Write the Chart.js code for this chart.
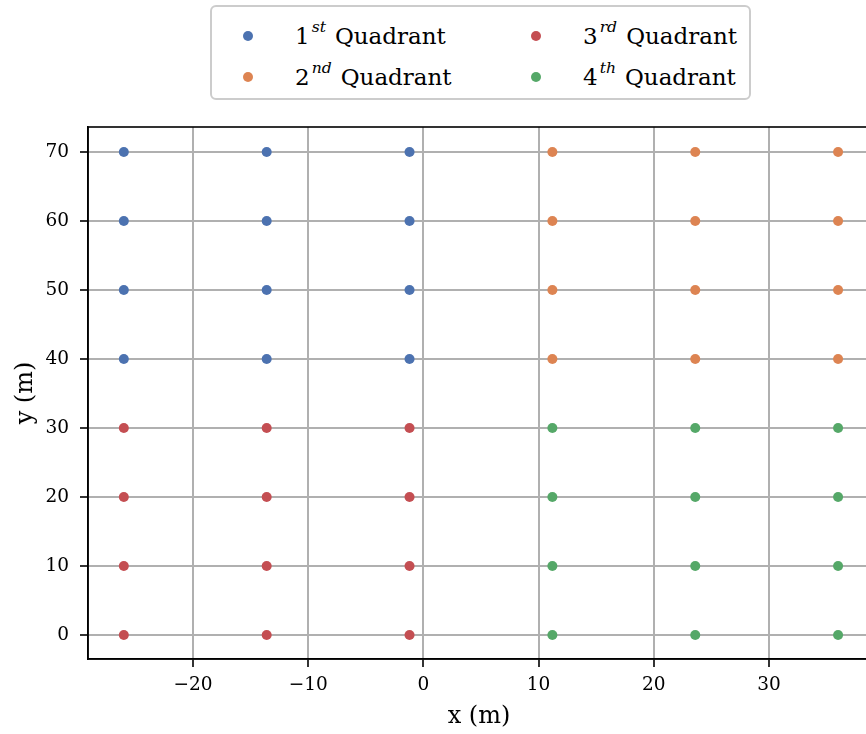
<!DOCTYPE html>
<html>
<head>
<meta charset="utf-8">
<script src="https://cdn.jsdelivr.net/npm/chart.js@4.4.0/dist/chart.umd.min.js"></script>
<style>
body { margin: 0; background: #fff; overflow: hidden; }
#wrap { position: relative; width: 866px; height: 734px; overflow: hidden; }
#chart { position: absolute; left: 0; top: 0; }
#legend { position: absolute; left: 210px; top: 5px; width: 537px; height: 91px;
  border: 2px solid #cccccc; border-radius: 6px; background: #fff;
  font-family: "DejaVu Serif", serif; font-size: 23px; color: #000; }
.item { position: absolute; height: 30px; display: flex; align-items: center; white-space: nowrap; }
.dot { position: absolute; width: 10px; height: 10px; border-radius: 50%; }
.item sup { font-style: italic; font-size: 0.68em; vertical-align: 0; position: relative; top: -0.6em; margin-left: 2px; margin-right: 9px; }
</style>
</head>
<body>
<div id="wrap">
  <canvas id="chart" width="880" height="734"></canvas>
  <div id="legend"></div>
</div>
<script>
// values
var xLeft = [-26, -13.6, -1.2];
var xRight = [11.2, 23.6, 36];
var yLower = [0, 10, 20, 30];
var yUpper = [40, 50, 60, 70];
var xTicks = [-20, -10, 0, 10, 20, 30];
var yTicks = [0, 10, 20, 30, 40, 50, 60, 70];
var quadrantNum = ['1', '2', '3', '4'];
var quadrantSuffix = ['st', 'nd', 'rd', 'th'];
var quadrantColors = ['#4c72b0', '#dd8452', '#c44e52', '#55a868'];

var serif = '"DejaVu Serif", serif';

function pointsFor(xs, ys) {
  var pts = [];
  for (var i = 0; i < xs.length; i++) {
    for (var j = 0; j < ys.length; j++) {
      pts.push({x: xs[i], y: ys[j]});
    }
  }
  return pts;
}

var quadrantPoints = [
  pointsFor(xLeft, yUpper),
  pointsFor(xRight, yUpper),
  pointsFor(xLeft, yLower),
  pointsFor(xRight, yLower)
];

var datasets = [];
for (var q = 0; q < 4; q++) {
  datasets.push({
    label: quadrantNum[q] + quadrantSuffix[q] + ' Quadrant',
    data: quadrantPoints[q],
    backgroundColor: quadrantColors[q],
    borderColor: quadrantColors[q],
    borderWidth: 0,
    pointRadius: 5,
    pointHoverRadius: 5
  });
}

// legend (html so the superscripts work)
var legendEl = document.getElementById('legend');
var legendPos = [[0, 0], [0, 1], [1, 0], [1, 1]]; // [col,row]
for (var k = 0; k < 4; k++) {
  var col = legendPos[k][0], row = legendPos[k][1];
  var rowY = (row === 0 ? 29 : 70);
  var dot = document.createElement('div');
  dot.className = 'dot';
  dot.style.background = quadrantColors[k];
  dot.style.left = (col === 0 ? 31 : 319) + 'px';
  dot.style.top = (rowY - 5) + 'px';
  legendEl.appendChild(dot);
  var item = document.createElement('div');
  item.className = 'item';
  item.style.left = (col === 0 ? 83 : 371) + 'px';
  item.style.top = (rowY - 15) + 'px';
  item.innerHTML = quadrantNum[k] + '<sup>' + quadrantSuffix[k] + '</sup>Quadrant';
  legendEl.appendChild(item);
}

function minusFmt(v) {
  return String(v).replace('-', '\u2212');
}

var framePlugin = {
  id: 'frame',
  afterDraw: function(chart) {
    var a = chart.chartArea, ctx = chart.ctx;
    ctx.save();
    ctx.strokeStyle = '#000';
    ctx.lineWidth = 1.6;
    ctx.strokeRect(a.left, a.top, a.right - a.left, a.bottom - a.top);
    ctx.restore();
  }
};

var gridOpts = {color: '#b0b0b0', lineWidth: 2, tickLength: 8, tickColor: '#000', tickWidth: 1.6};

new Chart(document.getElementById('chart'), {
  type: 'scatter',
  data: {datasets: datasets},
  options: {
    responsive: false,
    animation: false,
    devicePixelRatio: 1,
    layout: {padding: {top: 127, right: 10, bottom: 0, left: 0}},
    plugins: {legend: {display: false}, tooltip: {enabled: false}},
    scales: {
      x: {
        type: 'linear',
        min: -29.11,
        max: 38.77,
        z: 1,
        afterBuildTicks: function(s) { s.ticks = xTicks.map(function(v) { return {value: v}; }); },
        afterFit: function(s) { s.height = 75; },
        grid: gridOpts,
        border: {color: '#000', width: 1.6},
        ticks: {color: '#000', font: {family: serif, size: 18.5}, padding: 7, maxRotation: 0, autoSkip: false, callback: minusFmt},
        title: {display: true, text: 'x (m)', color: '#000', font: {family: serif, size: 24}, padding: {top: 0, bottom: 3}}
      },
      y: {
        type: 'linear',
        min: -3.48,
        max: 73.62,
        z: 1,
        afterBuildTicks: function(s) { s.ticks = yTicks.map(function(v) { return {value: v}; }); },
        afterFit: function(s) { s.width = 88; },
        grid: gridOpts,
        border: {color: '#000', width: 1.6},
        ticks: {color: '#000', font: {family: serif, size: 18.5}, padding: 11, autoSkip: false, callback: minusFmt},
        title: {display: true, text: 'y (m)', color: '#000', font: {family: serif, size: 24}, padding: {top: 11, bottom: 0}}
      }
    }
  },
  plugins: [framePlugin]
});
</script>
</body>
</html>
